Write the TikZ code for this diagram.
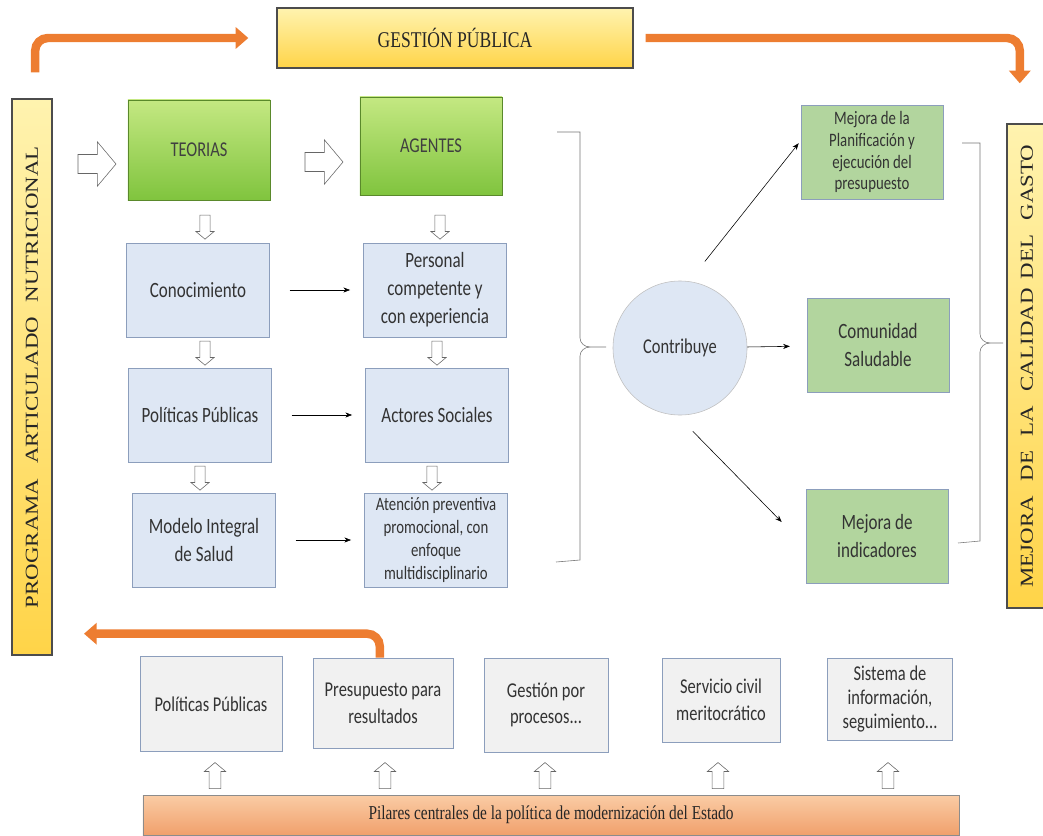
\documentclass[tikz,border=0pt]{standalone}
\usepackage{fontspec}
\setmainfont{Liberation Serif}[FakeStretch=0.78]
\newfontfamily\calibri{Carlito}[FakeStretch=0.78]
\newfontfamily\serifwide{Liberation Serif}[FakeStretch=1.25]
\usetikzlibrary{positioning, arrows.meta, shapes.arrows}

\definecolor{ylight}{RGB}{255,243,175}
\definecolor{ydark}{RGB}{255,212,72}
\definecolor{glight}{RGB}{196,232,130}
\definecolor{gdark}{RGB}{128,196,62}
\definecolor{bfill}{RGB}{222,231,244}
\definecolor{bline}{RGB}{140,158,188}
\definecolor{rfill}{RGB}{178,213,158}
\definecolor{pfill}{RGB}{241,241,241}
\definecolor{orng}{RGB}{237,125,49}
\definecolor{olight}{RGB}{250,204,165}
\definecolor{odark}{RGB}{240,160,108}

\begin{document}
\begin{tikzpicture}[
    x=0.025cm, y=-0.025cm,
    >=Stealth,
    ybox/.style={
        draw=black!70, line width=0.9pt,
        top color=ylight, bottom color=ydark,
        inner sep=0pt, text=black!85
    },
    gbox/.style={
        draw=gdark!70!black, top color=glight, bottom color=gdark,
        minimum width=3.55cm, minimum height=2.5cm,
        font=\calibri\fontsize{15}{18}\selectfont, text=black!75
    },
    bbox/.style={
        draw=bline, fill=bfill, minimum width=3.57cm, minimum height=2.36cm,
        inner sep=1pt, align=center, text=black!80,
        font=\calibri\fontsize{15.5}{20}\selectfont
    },
    rbox/.style={
        draw=bline, fill=rfill, minimum width=3.55cm, minimum height=2.35cm,
        inner sep=1pt, align=center, text=black!80,
        font=\calibri\fontsize{15.5}{20}\selectfont
    },
    pbox/.style={
        draw=bline, fill=pfill, inner sep=1pt, align=center, text=black!80,
        font=\calibri\fontsize{15}{19}\selectfont
    },
    hollow/.style={
        single arrow, draw=black!60, fill=white, inner xsep=0pt,
        single arrow tip angle=100
    },
    bighollow/.style={hollow, minimum height=0.95cm, inner ysep=0.23cm,
        single arrow head extend=0.32cm},
    downhollow/.style={hollow, rotate=270, minimum height=0.6cm,
        inner ysep=0.12cm, single arrow head extend=0.1cm},
    uphollow/.style={hollow, rotate=90, minimum height=0.65cm,
        inner ysep=0.14cm, single arrow head extend=0.12cm},
    arr/.style={->, thin, shorten <=0.5cm, shorten >=0.33cm},
    orarr/.style={
        draw=orng, line width=6pt, rounded corners=9pt,
        -{Triangle[length=9pt, width=15pt]}
    },
    brace/.style={draw=black!55, thin},
]
\useasboundingbox (0,0) rectangle (1043,835);

% Side and top banners
\node[ybox, minimum width=8.9cm, minimum height=1.5cm] (gp) at (455,38)
    {\fontsize{16}{18}\selectfont GESTIÓN PÚBLICA};
\node[ybox, minimum width=1.0cm, minimum height=13.9cm] (pan) at (32,377)
    {\rotatebox{90}{\serifwide\fontsize{13}{15}\selectfont PROGRAMA\hspace{0.8em}ARTICULADO\hspace{0.8em}NUTRICIONAL}};
\node[ybox, minimum width=1.0cm, minimum height=12.1cm] (mcg) at (1027,366)
    {\rotatebox{90}{\serifwide\fontsize{13}{15}\selectfont MEJORA\hspace{0.8em}DE\hspace{0.8em}LA\hspace{0.8em}CALIDAD\hspace{0.5em}DEL\hspace{0.8em}GASTO}};

% Left column: theories
\node[gbox] (teorias) at (199,150) {TEORIAS};
\node[bbox] (con) at (198,290) {Conocimiento};
\node[bbox] (pol) at (200,415) {Políticas Públicas};
\node[bbox] (mod) at (204,540) {Modelo Integral\\de Salud};

% Middle column: agents
\node[gbox, minimum height=2.45cm] (agentes) at (431,146) {AGENTES};
\node[bbox] (per) at (435,290) {Personal\\competente y\\con experiencia};
\node[bbox] (act) at (437,415) {Actores Sociales};
\node[bbox, font=\calibri\fontsize{13.5}{16.5}\selectfont] (ate) at (436,540)
    {Atención preventiva\\promocional, con\\enfoque\\multidisciplinario};

% Hollow arrows between boxes
\node[bighollow] (h1) at (93,164) {};
\node[bighollow] (h2) at (320,162) {};
\node[downhollow] (d1) at (205,225) {};
\node[downhollow] (d2) at (440,225) {};
\node[downhollow] (d3) at (205,351) {};
\node[downhollow] (d4) at (437,351) {};
\node[downhollow] (d5) at (200,476) {};
\node[downhollow] (d6) at (432,476) {};

% Theories feed agents
\draw[arr] (con) -- (per);
\draw[arr] (pol) -- (act);
\draw[arr] (mod) -- (ate);

% Brace round both columns
\draw[brace] (557,132) -- (580,132) -- (580,338) to[out=-90, in=180] (590,347) -- (606,347);
\draw[brace] (556,562) -- (580,560) -- (580,356) to[out=90, in=180] (590,347);

% Contribution and results
\node[circle, draw=black!25, fill=bfill, minimum size=3.35cm,
      font=\calibri\fontsize{15}{18}\selectfont, text=black!80] (contrib) at (680,348) {Contribuye};
\node[rbox, font=\calibri\fontsize{13.5}{15.6}\selectfont] (plan) at (872,152)
    {Mejora de la\\Planificación y\\ejecución del\\presupuesto};
\node[rbox] (com) at (878,345) {Comunidad\\Saludable};
\node[rbox] (ind) at (877,536) {Mejora de\\indicadores};

\draw[->, thin] ([shift={(0.62cm,0.48cm)}]contrib.north) -- ([shift={(-0.05cm,0.22cm)}]plan.west);
\draw[->, thin, shorten >=0.42cm] (contrib) -- (com);
\draw[->, thin] ([shift={(0.32cm,-0.4cm)}]contrib.south) -- ([shift={(-0.6cm,0.35cm)}]ind.west);

% Brace round the results
\draw[brace] (962,143) -- (980,143) -- (980,334) to[out=-90, in=180] (990,343) -- (1003,343);
\draw[brace] (958,543) -- (980,541) -- (980,352) to[out=90, in=180] (990,343);

% Bottom: pillars
\node[pbox, minimum width=3.55cm, minimum height=2.37cm] (b1) at (211,704) {Políticas Públicas};
\node[pbox, minimum width=3.5cm, minimum height=2.25cm] (b2) at (383,703) {Presupuesto para\\resultados};
\node[pbox, minimum width=3.1cm, minimum height=2.35cm] (b3) at (546,705) {Gestión por\\procesos...};
\node[pbox, minimum width=2.95cm, minimum height=2.1cm] (b4) at (721,700) {Servicio civil\\meritocrático};
\node[pbox, minimum width=3.12cm, minimum height=2.05cm, font=\calibri\fontsize{15}{17}\selectfont] (b5) at (890,699)
    {Sistema de\\información,\\seguimiento...};

\node[uphollow] (u1) at (215,778) {};
\node[uphollow] (u2) at (385,778) {};
\node[uphollow] (u3) at (545,778) {};
\node[uphollow] (u4) at (718,778) {};
\node[uphollow] (u5) at (888,778) {};

\node[draw=black!45, top color=olight, bottom color=odark, minimum width=20.4cm,
      minimum height=1.0cm, inner sep=0pt, text=black!85] (pil) at (551,815)
    {\fontsize{14}{16}\selectfont Pilares centrales de la política de modernización del Estado};

% Orange flow arrows
\draw[orarr] ([shift={(0.08cm,0.65cm)}]pan.north) |- ([xshift=-0.7cm]gp.west);
\draw[orarr] ([xshift=0.3cm]gp.east) -| ([shift={(-0.18cm,1.0cm)}]mcg.north);
\draw[orarr] ([xshift=-0.08cm]b2.north) |- ([shift={(1.3cm,0.55cm)}]pan.south);

\end{tikzpicture}
\end{document}
